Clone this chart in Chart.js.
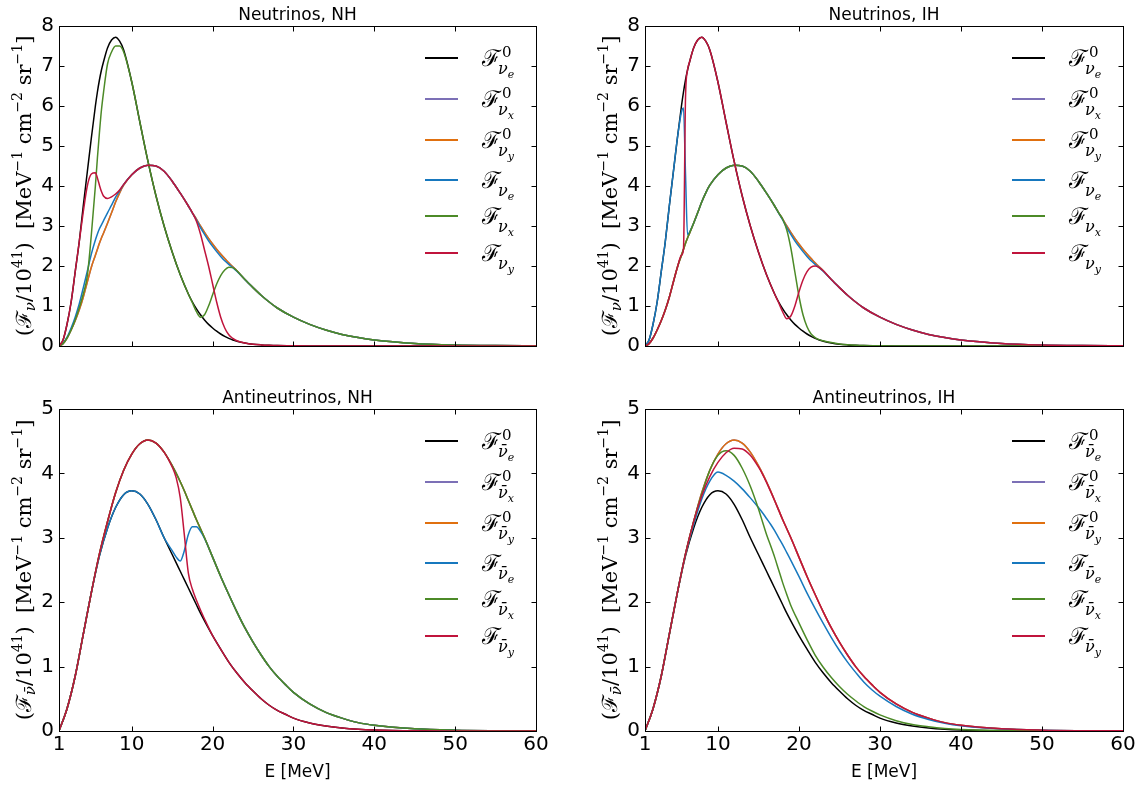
<!DOCTYPE html>
<html>
<head>
<meta charset="utf-8">
<script src="https://cdn.jsdelivr.net/npm/chart.js@4.4.0/dist/chart.umd.min.js"></script>
<style>
  html, body { margin: 0; padding: 0; background: #fff; }
  #wrap { position: relative; width: 1148px; height: 789px; overflow: hidden; }
  #wrap canvas { position: absolute; }
</style>
</head>
<body>
<div id="wrap"></div>
<script>
// energy grids (MeV)
const energyNu = [1, 1.5, 2, 2.5, 3, 3.5, 4, 4.5, 5, 5.5, 5.75, 6, 6.25, 6.5, 7, 7.5, 8, 8.5, 9,
  10, 11, 12, 13, 14, 15, 16, 17, 17.5, 18, 18.5, 19, 19.5, 20, 20.5, 21, 21.5, 22, 22.5, 23,
  24, 25, 26, 27, 28, 30, 32, 34, 36, 38, 40, 45, 50, 55, 60];
const energyAnu = [1, 2, 3, 4, 5, 6, 7, 8, 9, 10, 11, 12, 13, 14, 15, 15.5, 16, 16.5, 17, 17.5, 18, 18.5, 19,
  20, 21, 22, 23, 24, 25, 26, 27, 28, 29, 30, 32, 34, 36, 38, 40, 45, 50, 55, 60];

// neutrinos
const nuE0 = [0, 0.15, 0.55, 1.1, 1.85, 2.6, 3.5, 4.35, 5.2, 6.0, 6.35, 6.65, 6.9, 7.1,
  7.45, 7.65, 7.72, 7.62, 7.4, 6.6, 5.6, 4.62, 3.75, 3.0, 2.35, 1.78, 1.3,
  1.1, 0.93, 0.78, 0.65, 0.54, 0.45, 0.37, 0.3, 0.24, 0.19, 0.15, 0.12,
  0.075, 0.045, 0.028, 0.017, 0.01, 0.004, 0.001, 0, 0, 0, 0, 0, 0, 0, 0];
const nuX0 = [0, 0.06, 0.2, 0.4, 0.63, 0.9, 1.22, 1.6, 1.97, 2.27, 2.42, 2.57, 2.7, 2.82,
  3.07, 3.33, 3.6, 3.83, 4.02, 4.28, 4.45, 4.52, 4.5, 4.37, 4.12, 3.82, 3.5,
  3.33, 3.17, 3.0, 2.84, 2.69, 2.55, 2.42, 2.3, 2.19, 2.08, 1.98, 1.88,
  1.66, 1.46, 1.27, 1.1, 0.95, 0.72, 0.54, 0.4, 0.29, 0.21, 0.15, 0.065, 0.027, 0.011, 0.004];
const nuE_NH = [0, 0.07, 0.22, 0.45, 0.72, 1.05, 1.45, 1.87, 2.3, 2.65, 2.8, 2.93, 3.03, 3.13,
  3.33, 3.52, 3.72, 3.88, 4.04, 4.28, 4.45, 4.52, 4.5, 4.37, 4.12, 3.82, 3.5,
  3.32, 3.15, 2.96, 2.79, 2.63, 2.49, 2.36, 2.24, 2.13, 2.04, 1.96, 1.87,
  1.66, 1.46, 1.27, 1.1, 0.95, 0.72, 0.54, 0.4, 0.29, 0.21, 0.15, 0.065, 0.027, 0.011, 0.004];
const nuX_NH = [0, 0.06, 0.2, 0.4, 0.65, 0.95, 1.3, 1.75, 2.78, 4.0, 4.7, 5.33, 5.9, 6.33,
  7.05, 7.35, 7.5, 7.5, 7.35, 6.6, 5.6, 4.62, 3.75, 3.0, 2.35, 1.78, 1.3,
  1.08, 0.86, 0.72, 0.78, 1.0, 1.28, 1.55, 1.76, 1.9, 1.97, 1.96, 1.88,
  1.66, 1.46, 1.27, 1.1, 0.95, 0.72, 0.54, 0.4, 0.29, 0.21, 0.15, 0.065, 0.027, 0.011, 0.004];
const nuY_NH = [0, 0.15, 0.55, 1.1, 1.85, 2.6, 3.35, 4.0, 4.3, 4.33, 4.2, 4.02, 3.86, 3.75,
  3.69, 3.73, 3.8, 3.9, 4.04, 4.28, 4.45, 4.52, 4.5, 4.37, 4.12, 3.82, 3.5,
  3.33, 3.12, 2.8, 2.4, 2.0, 1.55, 1.1, 0.72, 0.45, 0.28, 0.19, 0.13,
  0.076, 0.045, 0.028, 0.017, 0.01, 0.004, 0.001, 0, 0, 0, 0, 0, 0, 0, 0];
const nuE_IH = [0, 0.15, 0.55, 1.1, 1.85, 2.6, 3.5, 4.35, 5.2, 5.85, 5.95, 4.3, 2.78, 2.85,
  3.07, 3.33, 3.6, 3.83, 4.02, 4.28, 4.45, 4.52, 4.5, 4.37, 4.12, 3.82, 3.5,
  3.32, 3.15, 2.96, 2.79, 2.63, 2.49, 2.36, 2.24, 2.13, 2.04, 1.96, 1.87,
  1.66, 1.46, 1.27, 1.1, 0.95, 0.72, 0.54, 0.4, 0.29, 0.21, 0.15, 0.065, 0.027, 0.011, 0.004];
const nuX_IH = [0, 0.06, 0.2, 0.4, 0.63, 0.9, 1.22, 1.6, 1.97, 2.27, 2.42, 2.57, 2.7, 2.82,
  3.07, 3.33, 3.6, 3.83, 4.02, 4.28, 4.45, 4.52, 4.5, 4.37, 4.12, 3.82, 3.5,
  3.33, 3.17, 2.9, 2.45, 1.85, 1.25, 0.78, 0.48, 0.3, 0.21, 0.16, 0.13,
  0.085, 0.052, 0.032, 0.02, 0.012, 0.005, 0.002, 0, 0, 0, 0, 0, 0, 0, 0];
const nuY_IH = [0, 0.06, 0.2, 0.4, 0.63, 0.9, 1.22, 1.6, 1.97, 2.27, 2.42, 6.2, 6.9, 7.1,
  7.45, 7.65, 7.72, 7.62, 7.4, 6.6, 5.6, 4.62, 3.75, 3.0, 2.35, 1.78, 1.3,
  1.08, 0.85, 0.68, 0.75, 1.0, 1.35, 1.65, 1.86, 1.97, 2.0, 1.96, 1.88,
  1.66, 1.46, 1.27, 1.1, 0.95, 0.72, 0.54, 0.4, 0.29, 0.21, 0.15, 0.065, 0.027, 0.011, 0.004];

// antineutrinos
const anuE0 = [0, 0.35, 0.85, 1.5, 2.15, 2.72, 3.15, 3.47, 3.67, 3.73, 3.68, 3.52, 3.28, 3.0, 2.74,
  2.61, 2.48, 2.35, 2.22, 2.09, 1.96, 1.83, 1.71,
  1.48, 1.27, 1.07, 0.9, 0.75, 0.62, 0.5, 0.4, 0.32, 0.26, 0.2,
  0.125, 0.078, 0.047, 0.028, 0.017, 0.004, 0.001, 0, 0];
const anuX0 = [0, 0.35, 0.85, 1.5, 2.15, 2.75, 3.25, 3.7, 4.05, 4.3, 4.46, 4.52, 4.47, 4.33, 4.12,
  4.0, 3.87, 3.73, 3.58, 3.43, 3.28, 3.14, 3.0,
  2.7, 2.4, 2.12, 1.85, 1.6, 1.38, 1.18, 1.0, 0.85, 0.72, 0.6,
  0.42, 0.29, 0.2, 0.13, 0.09, 0.035, 0.013, 0.005, 0.002];
const anuE_NH = [0, 0.35, 0.85, 1.5, 2.15, 2.72, 3.15, 3.47, 3.67, 3.73, 3.68, 3.52, 3.28, 3.0, 2.8,
  2.7, 2.64, 2.8, 3.05, 3.17, 3.17, 3.1, 2.99,
  2.7, 2.4, 2.12, 1.85, 1.6, 1.38, 1.18, 1.0, 0.85, 0.72, 0.6,
  0.42, 0.29, 0.2, 0.13, 0.09, 0.035, 0.013, 0.005, 0.002];
const anuX_NH = anuX0;
const anuY_NH = [0, 0.35, 0.85, 1.5, 2.15, 2.75, 3.25, 3.7, 4.05, 4.3, 4.46, 4.52, 4.47, 4.33, 4.1,
  3.93, 3.62, 3.05, 2.45, 2.2, 2.03, 1.88, 1.74,
  1.48, 1.27, 1.07, 0.9, 0.75, 0.62, 0.5, 0.4, 0.32, 0.26, 0.2,
  0.125, 0.078, 0.047, 0.028, 0.017, 0.004, 0.001, 0, 0];
const anuE_IH = [0, 0.35, 0.85, 1.5, 2.15, 2.74, 3.2, 3.6, 3.88, 4.02, 3.97, 3.88, 3.76, 3.62, 3.47,
  3.39, 3.3, 3.21, 3.11, 3.0, 2.89, 2.77, 2.65,
  2.4, 2.14, 1.9, 1.67, 1.45, 1.25, 1.07, 0.91, 0.76, 0.64, 0.54,
  0.38, 0.26, 0.18, 0.12, 0.08, 0.03, 0.011, 0.004, 0.001];
const anuX_IH = [0, 0.35, 0.85, 1.5, 2.15, 2.75, 3.25, 3.68, 4.05, 4.28, 4.35, 4.28, 4.08, 3.8, 3.45,
  3.25, 3.05, 2.88, 2.7, 2.5, 2.3, 2.12, 1.95,
  1.68, 1.42, 1.18, 0.99, 0.83, 0.69, 0.57, 0.47, 0.38, 0.31, 0.25,
  0.16, 0.1, 0.065, 0.04, 0.025, 0.008, 0.002, 0, 0];
const anuY_IH = [0, 0.35, 0.85, 1.5, 2.15, 2.75, 3.25, 3.65, 3.95, 4.17, 4.32, 4.39, 4.38, 4.28, 4.1,
  3.99, 3.86, 3.72, 3.58, 3.43, 3.28, 3.14, 3.0,
  2.7, 2.4, 2.12, 1.85, 1.6, 1.38, 1.18, 1.0, 0.85, 0.72, 0.6,
  0.42, 0.29, 0.2, 0.13, 0.09, 0.035, 0.013, 0.005, 0.002];

const xTicks = [1, 10, 20, 30, 40, 50, 60];
const yTicksNu = [0, 1, 2, 3, 4, 5, 6, 7, 8];
const yTicksAnu = [0, 1, 2, 3, 4, 5];
const titles = ['Neutrinos, NH', 'Neutrinos, IH', 'Antineutrinos, NH', 'Antineutrinos, IH'];
const flavors = ['e', 'x', 'y', 'e', 'x', 'y'];
const unosc = [true, true, true, false, false, false];
const colors = ['#000000', '#7c70b6', '#e0700f', '#1778be', '#4c8a27', '#c0143c'];

const serif = '"DejaVu Serif", "Liberation Serif", serif';
const sans = '"DejaVu Sans", sans-serif';

// text pieces: [text, size, dy, italic]
function richWidth(ctx, parts) {
  let w = 0;
  parts.forEach(p => {
    ctx.font = (p[3] ? 'italic ' : '') + p[1] + 'px ' + serif;
    w += ctx.measureText(p[0]).width;
  });
  return w;
}
function drawRich(ctx, parts, x, y) {
  let cx = x;
  parts.forEach(p => {
    ctx.font = (p[3] ? 'italic ' : '') + p[1] + 'px ' + serif;
    ctx.fillText(p[0], cx, y + p[2]);
    cx += ctx.measureText(p[0]).width;
  });
}

const deco = {
  id: 'deco',
  afterDraw(chart, args, o) {
    const {ctx, chartArea: a, scales} = chart;
    const nu = o.anti ? 'ν\u0304' : 'ν';
    ctx.save();
    ctx.fillStyle = '#000';
    ctx.strokeStyle = '#000';
    ctx.lineWidth = 1;
    const L = Math.round(a.left) + 0.5, R = Math.round(a.right) + 0.5;
    const T = Math.round(a.top) + 0.5, B = Math.round(a.bottom) + 0.5;
    ctx.strokeRect(L, T, R - L, B - T);

    // inward ticks on all four sides
    ctx.beginPath();
    xTicks.forEach(v => {
      const px = Math.round(scales.x.getPixelForValue(v)) + 0.5;
      ctx.moveTo(px, B); ctx.lineTo(px, B - 5);
      ctx.moveTo(px, T); ctx.lineTo(px, T + 5);
    });
    o.yTicks.forEach(v => {
      const py = Math.round(scales.y.getPixelForValue(v)) + 0.5;
      ctx.moveTo(L, py); ctx.lineTo(L + 5, py);
      ctx.moveTo(R, py); ctx.lineTo(R - 5, py);
    });
    ctx.stroke();

    // title and x label
    ctx.textAlign = 'center';
    ctx.textBaseline = 'alphabetic';
    ctx.font = '17px ' + sans;
    ctx.fillText(o.title, (a.left + a.right) / 2, a.top - 6);
    if (o.xlabel) ctx.fillText(o.xlabel, (a.left + a.right) / 2, a.bottom + 46);

    // y axis label
    ctx.textAlign = 'left';
    const yl = [['(', 21, 0], ['ℱ', 21, 0], [nu, 15, 4, true], ['/10', 21, 0], ['41', 14, -9],
      [')  [MeV', 21, 0], ['−1', 14, -9], [' cm', 21, 0], ['−2', 14, -9], [' sr', 21, 0], ['−1', 14, -9], [']', 21, 0]];
    ctx.save();
    ctx.translate(a.left - 28, (a.top + a.bottom) / 2);
    ctx.rotate(-Math.PI / 2);
    drawRich(ctx, yl, -richWidth(ctx, yl) / 2, 0);
    ctx.restore();

    // legend
    const rows = [32, 73, 114, 154, 190, 227];
    chart.data.datasets.forEach((ds, i) => {
      const ly = a.top + rows[i];
      ctx.strokeStyle = ds.borderColor;
      ctx.lineWidth = 2;
      ctx.beginPath();
      ctx.moveTo(a.right - 111, ly);
      ctx.lineTo(a.right - 78, ly);
      ctx.stroke();
      const tx = a.right - 54;
      ctx.font = '23px ' + serif;
      ctx.fillText('ℱ', tx, ly + 8);
      const wF = ctx.measureText('ℱ').width;
      if (unosc[i]) {
        ctx.font = '15px ' + serif;
        ctx.fillText('0', tx + wF + 1, ly - 1);
      }
      ctx.font = 'italic 16px ' + serif;
      ctx.fillText(nu, tx + wF - 3, ly + 16);
      const wn = ctx.measureText(nu).width;
      ctx.font = 'italic 11px ' + serif;
      ctx.fillText(flavors[i], tx + wF - 3 + wn, ly + 20);
    });
    ctx.restore();
  }
};

const panels = [
  { left: 0, top: 0, w: 574, h: 378, yw: 59, xh: 32, pad: {left: 0, top: 26, right: 38, bottom: 0},
    energy: energyNu, series: [nuE0, nuX0, nuX0, nuE_NH, nuX_NH, nuY_NH],
    yMax: 8, yTicks: yTicksNu, title: titles[0], anti: false, xlabel: '' },
  { left: 574, top: 0, w: 574, h: 378, yw: 71, xh: 32, pad: {left: 0, top: 26, right: 25, bottom: 0},
    energy: energyNu, series: [nuE0, nuX0, nuX0, nuE_IH, nuX_IH, nuY_IH],
    yMax: 8, yTicks: yTicksNu, title: titles[1], anti: false, xlabel: '' },
  { left: 0, top: 378, w: 574, h: 411, yw: 59, xh: 58, pad: {left: 0, top: 31, right: 38, bottom: 0},
    energy: energyAnu, series: [anuE0, anuX0, anuX0, anuE_NH, anuX_NH, anuY_NH],
    yMax: 5, yTicks: yTicksAnu, title: titles[2], anti: true, xlabel: 'E [MeV]' },
  { left: 574, top: 378, w: 574, h: 411, yw: 71, xh: 58, pad: {left: 0, top: 31, right: 25, bottom: 0},
    energy: energyAnu, series: [anuE0, anuX0, anuX0, anuE_IH, anuX_IH, anuY_IH],
    yMax: 5, yTicks: yTicksAnu, title: titles[3], anti: true, xlabel: 'E [MeV]' },
];

const wrap = document.getElementById('wrap');
panels.forEach(p => {
  const cv = document.createElement('canvas');
  cv.width = p.w; cv.height = p.h;
  cv.style.left = p.left + 'px';
  cv.style.top = p.top + 'px';
  wrap.appendChild(cv);

  const nu = p.anti ? 'ν\u0304' : 'ν';
  const datasets = p.series.map((vals, i) => ({
    label: 'ℱ' + (unosc[i] ? '⁰ ' : ' ') + nu + flavors[i],
    data: p.energy.map((e, k) => ({x: e, y: vals[k]})),
    borderColor: colors[i],
    borderWidth: 1.5,
    pointRadius: 0,
    fill: false,
    cubicInterpolationMode: 'monotone',
    order: 5 - i
  }));

  new Chart(cv, {
    type: 'line',
    data: { datasets },
    plugins: [deco],
    options: {
      responsive: false,
      animation: false,
      layout: { padding: p.pad },
      plugins: {
        legend: { display: false },
        tooltip: { enabled: false },
        deco: { title: p.title, xlabel: p.xlabel, anti: p.anti, yTicks: p.yTicks }
      },
      scales: {
        x: {
          type: 'linear', min: 1, max: 60,
          afterBuildTicks: s => { s.ticks = xTicks.map(v => ({value: v})); },
          afterFit: s => { s.height = p.xh; },
          grid: { display: false, drawTicks: false },
          border: { display: false },
          ticks: { display: !!p.xlabel, color: '#000', font: {family: 'DejaVu Sans', size: 20},
                   padding: 2, maxRotation: 0, autoSkip: false }
        },
        y: {
          type: 'linear', min: 0, max: p.yMax,
          afterBuildTicks: s => { s.ticks = p.yTicks.map(v => ({value: v})); },
          afterFit: s => { s.width = p.yw; },
          grid: { display: false, drawTicks: false },
          border: { display: false },
          ticks: { color: '#000', font: {family: 'DejaVu Sans', size: 20}, padding: 5 }
        }
      }
    }
  });
});
</script>
</body>
</html>
